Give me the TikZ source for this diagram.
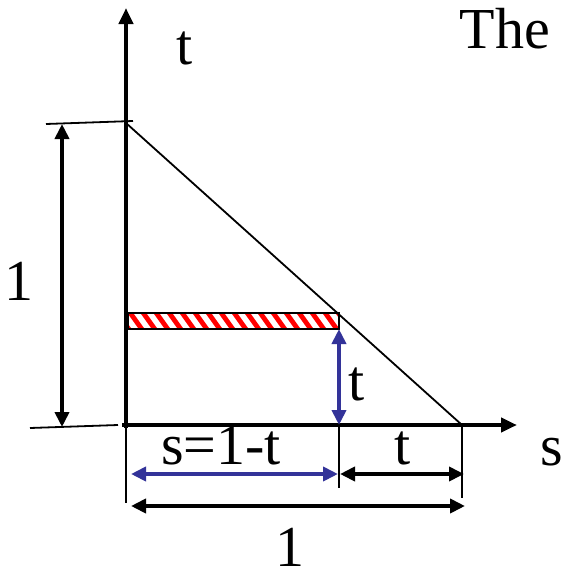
\documentclass[tikz,border=0pt]{standalone}
\usepackage{fontspec}
\setmainfont{Liberation Serif}
\usetikzlibrary{arrows.meta}
\definecolor{cblue}{HTML}{333399}
\definecolor{cred}{HTML}{FF0000}
\tikzset{
  every picture/.style={x=1pt, y=-1pt, font=\fontsize{58}{64}\selectfont},
  axis/.style={-{Triangle[length=16pt, width=14pt]}, line width=4.5pt},
  thin/.style={line width=1.8pt},
  dim/.style={{Triangle[length=15pt, width=14pt]}-{Triangle[length=15pt, width=14pt]}, line width=4.5pt},
  bdim/.style={dim, draw=cblue},
  lbl/.style={anchor=base, inner sep=0pt},
}

\begin{document}
\begin{tikzpicture}
  \useasboundingbox (0,0) rectangle (568,579);
  % points of the triangle
  \coordinate (O) at (126,425);
  \coordinate (A) at (126,123);
  \coordinate (B) at (462,425);
  \coordinate (P) at (339,425);
  \coordinate (Q) at (339,329);
  % hatched strip
  \begin{scope}
    \clip (128,313) rectangle (339,329);
    \foreach \x in {100,113,...,350}
      \draw[cred, line width=4.8pt] (\x,307) -- (\x+20,335);
  \end{scope}
  \draw[line width=2.6pt] (128,313) rectangle (Q);
  % triangle and axes
  \draw[thin] (A) -- (B);
  \draw[axis] (126,428) -- (126,8);
  \draw[axis] (122,425) -- (517,425);
  % left dimension
  \coordinate (lt) at (46,124);
  \coordinate (lb) at (30,428);
  \draw[thin] (lt) -- (133,121);
  \draw[thin] (lb) -- (118,425);
  \draw[dim] (62,124) -- (62,427);
  % bottom dimensions
  \draw[thin] (O) -- (126,503);
  \draw[thin] (P) -- (339,488);
  \draw[thin] (B) -- (462,498);
  \draw[bdim] (131,474) -- (338,474);
  \draw[dim] (340,474) -- (464,474);
  \draw[dim] (131,506) -- (465,506);
  \draw[bdim] (Q) -- (P);
  % labels
  \node[lbl] (tax) at (185,64) {t};
  \node[lbl] (the) at (505,48) {The};
  \node[lbl] (sax) at (552,465) {s};
  \node[lbl] (one) at (19,300) {1};
  \node[lbl] (sdef) at (221,464) {s=1-t};
  \node[lbl] (tlow) at (403,464) {t};
  \node[lbl] (tup) at (357,400) {t};
  \node[lbl] (onel) at (290,566) {1};
\end{tikzpicture}
\end{document}
